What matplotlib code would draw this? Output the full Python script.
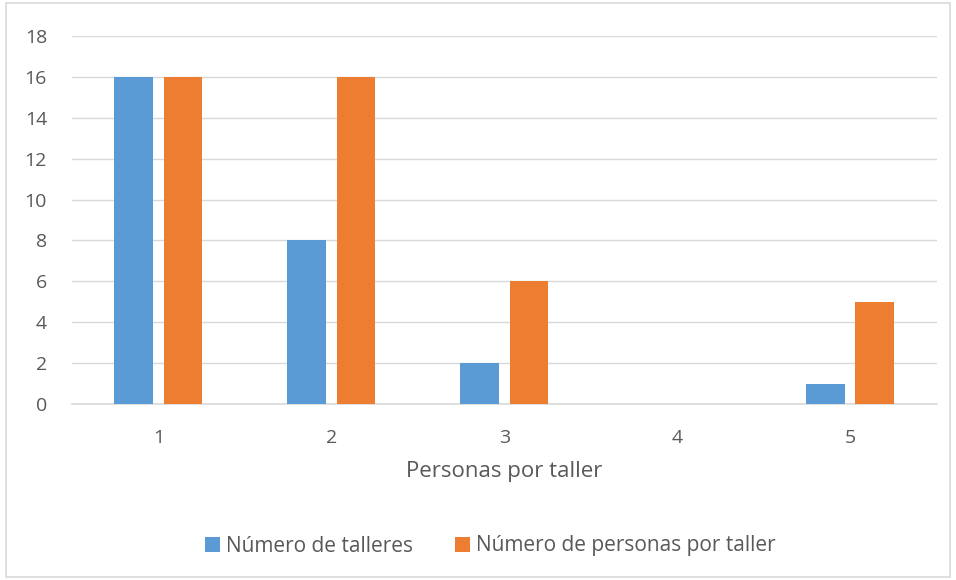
import matplotlib.pyplot as plt
import numpy as np
from matplotlib.patches import Rectangle

# datos
categorias = [1, 2, 3, 4, 5]
num_talleres = [16, 8, 2, 0, 1]
num_personas = [16, 16, 6, 0, 5]
yticks = [0, 2, 4, 6, 8, 10, 12, 14, 16, 18]

azul = "#5b9bd5"
naranja = "#ed7d31"
gris = "#595959"

plt.rcParams["font.family"] = ["Open Sans", "DejaVu Sans"]

fig = plt.figure(figsize=(9.56, 5.8), dpi=100)
ax = fig.add_axes([0.0753, 0.3034, 0.9047, 0.6345])

x = np.array(categorias)
ancho = 0.225
ax.bar(x - 0.145, num_talleres, ancho, color=azul, label="Número de talleres", zorder=3)
ax.bar(x + 0.142, num_personas, ancho, color=naranja, label="Número de personas por taller", zorder=3)

ax.set_xlim(0.5, 5.5)
ax.set_ylim(0, 18)
ax.set_yticks(yticks)
ax.set_xticks(categorias)
ax.yaxis.grid(True, color="#d9d9d9", linewidth=1, zorder=0)
for s in ["top", "right", "left"]:
    ax.spines[s].set_visible(False)
ax.spines["bottom"].set_color("#d9d9d9")
ax.spines["bottom"].set_linewidth(1.2)
ax.tick_params(axis="both", length=0, labelsize=14, labelcolor=gris)
ax.tick_params(axis="y", pad=18)
ax.tick_params(axis="x", pad=18)
ax.set_xlabel("Personas por taller", fontsize=16, color=gris, labelpad=10)

fig.legend(loc="center", bbox_to_anchor=(0.513, 1 - 546 / 580), ncol=2, frameon=False,
           fontsize=15, labelcolor=gris, handlelength=0.7, handleheight=0.7,
           handletextpad=0.3, columnspacing=2.0)

fig.patches.append(Rectangle((0.006, 0.006), 0.988, 0.988, transform=fig.transFigure,
                             fill=False, edgecolor="#d9d9d9", linewidth=1.2))

fig.savefig("out.png", dpi=100)
